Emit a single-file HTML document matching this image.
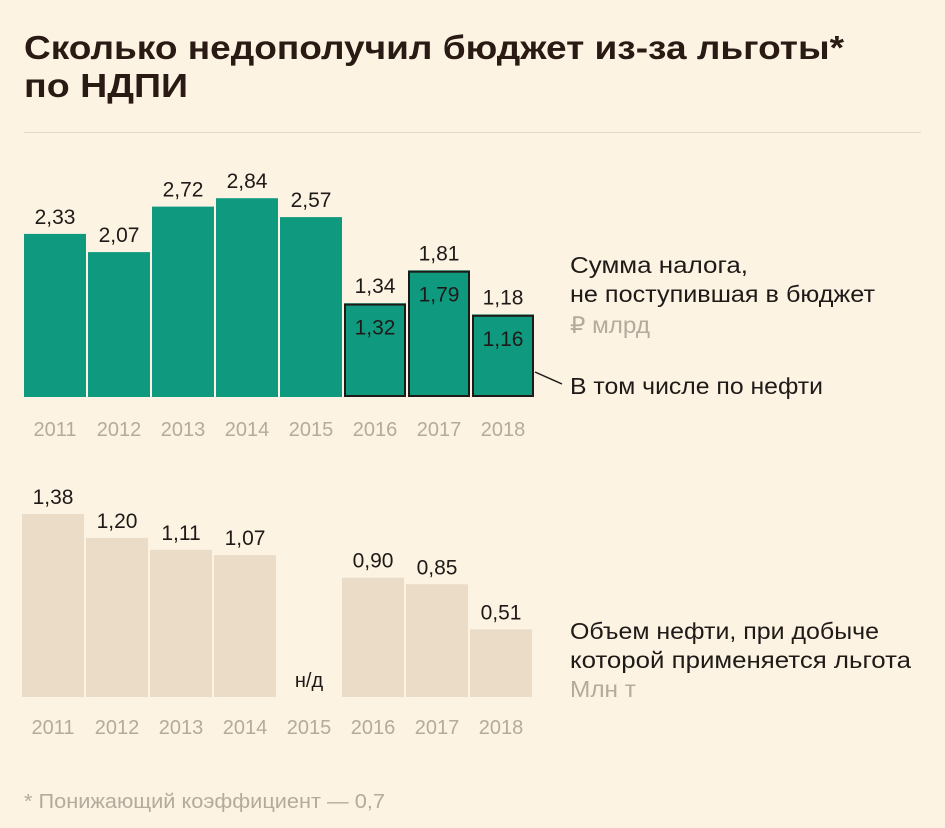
<!DOCTYPE html>
<html><head><meta charset="utf-8"><style>
html,body{margin:0;padding:0;background:#fdf3e3;}
svg{display:block;font-family:"Liberation Sans",sans-serif;}
</style></head><body>
<svg id="c" width="945" height="828" viewBox="0 0 945 828">
<rect width="945" height="828" fill="#fdf3e3"/>
<text x="24" y="59" font-size="33" font-weight="bold" fill="#2a1a14" textLength="820" lengthAdjust="spacingAndGlyphs">Сколько недополучил бюджет из-за льготы*</text>
<text x="24" y="97" font-size="33" font-weight="bold" fill="#2a1a14" textLength="164" lengthAdjust="spacingAndGlyphs">по НДПИ</text>
<line x1="24" y1="132.5" x2="921" y2="132.5" stroke="#e3d9c8"/>
<g id="topChart"></g>
<g id="botChart"></g>
<g font-size="23" fill="#1e1a17">
<text x="570" y="273" textLength="178" lengthAdjust="spacingAndGlyphs">Сумма налога,</text>
<text x="570" y="302" textLength="305" lengthAdjust="spacingAndGlyphs">не поступившая в бюджет</text>
<text x="570" y="333" textLength="80" lengthAdjust="spacingAndGlyphs" fill="#b3ab9c">₽ млрд</text>
<text x="570" y="394" textLength="253" lengthAdjust="spacingAndGlyphs">В том числе по нефти</text>
<line x1="535" y1="372" x2="562" y2="384" stroke="#1e1a17" stroke-width="1.5"/>
<text x="570" y="639" textLength="309" lengthAdjust="spacingAndGlyphs">Объем нефти, при добыче</text>
<text x="570" y="668" textLength="341" lengthAdjust="spacingAndGlyphs">которой применяется льгота</text>
<text x="570" y="697" textLength="66" lengthAdjust="spacingAndGlyphs" fill="#b3ab9c">Млн т</text>
</g>
<text x="24" y="808" font-size="20" textLength="361" lengthAdjust="spacingAndGlyphs" fill="#b3ab9c">* Понижающий коэффициент — 0,7</text>
</svg>
<script>
const years=["2011","2012","2013","2014","2015","2016","2017","2018"];
const taxTotal=[2.33,2.07,2.72,2.84,2.57,1.34,1.81,1.18];
const taxOil=[null,null,null,null,null,1.32,1.79,1.16];
const oilVolume=[1.38,1.20,1.11,1.07,null,0.90,0.85,0.51];
const NS="http://www.w3.org/2000/svg";
function mk(p,t,a){const e=document.createElementNS(NS,t);for(const k in a)e.setAttribute(k,a[k]);p.appendChild(e);return e;}
const fmt=v=>v.toFixed(2).replace('.',',');
const xPos=i=>24+i*64, bw=62;
const yTop=v=>397-v*70, yBot=v=>697-v*132.6;
const gTop=document.getElementById('topChart'), gBot=document.getElementById('botChart');
years.forEach((y,i)=>{
  const x=xPos(i);
  const v=taxTotal[i];
  const r=mk(gTop,'rect',{x:x,y:yTop(v),width:bw,height:397-yTop(v),fill:'#0f9a80'});
  
  
  const t=mk(gTop,'text',{x:x+bw/2,y:yTop(v)-10,'text-anchor':'middle','font-size':21,fill:'#1e1a17'});
  t.textContent=fmt(v);
  
  
  if(taxOil[i]!=null){
    const o=taxOil[i];
    const ro=mk(gTop,'rect',{x:x+1,y:yTop(o),width:bw-2,height:397-yTop(o)-1,fill:'none',stroke:'#1e1a17','stroke-width':2});
    
    
    const to=mk(gTop,'text',{x:x+bw/2,y:yTop(o)+30,'text-anchor':'middle','font-size':21,fill:'#1e1a17'});
    to.textContent=fmt(o);
    
    
  }
  const yl=mk(gTop,'text',{x:x+bw/2,y:436,'text-anchor':'middle','font-size':20,fill:'#b3ab9c'});
  yl.textContent=y;
  
  
  const b=oilVolume[i];
  if(b!=null){
    const rb=mk(gBot,'rect',{x:x-2,y:yBot(b),width:bw,height:697-yBot(b),fill:'#eadcc6'});
    
    
    const tb=mk(gBot,'text',{x:x-2+bw/2,y:yBot(b)-10,'text-anchor':'middle','font-size':21,fill:'#1e1a17'});
    tb.textContent=fmt(b);
    
    
  } else {
    const tn=mk(gBot,'text',{x:x-2+bw/2,y:687,'text-anchor':'middle','font-size':20,fill:'#1e1a17'});
    tn.textContent='н/д';
    
    
  }
  const yb=mk(gBot,'text',{x:x-2+bw/2,y:734,'text-anchor':'middle','font-size':20,fill:'#b3ab9c'});
  yb.textContent=y;
  
  
});
</script>
</body></html>
